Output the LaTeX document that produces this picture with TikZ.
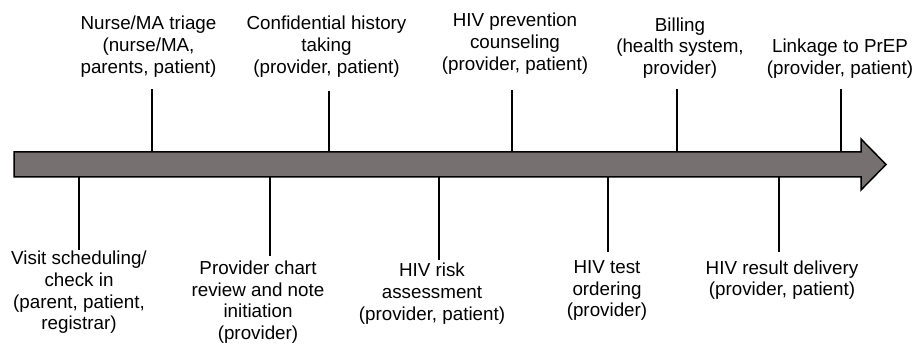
\documentclass[tikz,border=0pt]{standalone}
\usepackage{fontspec}
\setmainfont{Liberation Sans}
\usetikzlibrary{positioning, calc}
\definecolor{bargray}{RGB}{118,113,112}

\begin{document}
\begin{tikzpicture}[x=0.5pt, y=-0.5pt,
            lbl/.style={align=center, inner sep=0pt, font=\fontsize{9.4}{10.85}\selectfont},
            tick/.style={line width=1pt, black},
            timeline/.style={fill=bargray, draw=black, line width=0.75pt, line join=miter}
        ]
            \useasboundingbox (0,0) rectangle (917,346);

            % --- timeline arrow ---
            \draw[timeline] (14,152) -- (861,152) -- (861,139) -- (886,164.5)
                -- (861,190) -- (861,177) -- (14,177) -- cycle;

            % --- steps above the line ---
            \node[lbl] (triage) at (148.5,46.5) {Nurse/MA triage\\(nurse/MA,\\parents, patient)};
            \node[lbl] (history) at (326.5,46.5) {Confidential history\\taking\\(provider, patient)};
            \node[lbl] (counsel) at (515,43.5) {HIV prevention\\counseling\\(provider, patient)};
            \node[lbl] (billing) at (680,48) {Billing\\(health system,\\provider)};
            \node[lbl] (prep) at (840,58.5) {Linkage to PrEP\\(provider, patient)};

            % --- steps below the line ---
            \node[lbl] (visit) at (79,292.5) {Visit scheduling/\\check in\\(parent, patient,\\registrar)};
            \node[lbl] (chart) at (258,302) {Provider chart\\review and note\\initiation\\(provider)};
            \node[lbl] (risk) at (432,293.5) {HIV risk\\assessment\\(provider, patient)};
            \node[lbl] (order) at (607,290.5) {HIV test\\ordering\\(provider)};
            \node[lbl] (result) at (782,280) {HIV result delivery\\(provider, patient)};

            % --- tick marks ---
            \coordinate (triage-a) at (152,152);  \coordinate (triage-b) at (152,89);
            \coordinate (history-a) at (329,152); \coordinate (history-b) at (329,91);
            \coordinate (counsel-a) at (512,152); \coordinate (counsel-b) at (512,90);
            \coordinate (billing-a) at (677,152); \coordinate (billing-b) at (677,89);
            \coordinate (prep-a) at (841,152);    \coordinate (prep-b) at (841,89);

            \coordinate (visit-a) at (79,177);    \coordinate (visit-b) at (79,250);
            \coordinate (chart-a) at (270,177);   \coordinate (chart-b) at (270,256);
            \coordinate (risk-a) at (439,177);    \coordinate (risk-b) at (439,260);
            \coordinate (order-a) at (608,177);   \coordinate (order-b) at (608,252);
            \coordinate (result-a) at (779,177);  \coordinate (result-b) at (779,252);

            \foreach \s in {triage, history, counsel, billing, prep, visit, chart, risk, order, result}
                \draw[tick] (\s-a) -- (\s-b);
        \end{tikzpicture}
\end{document}
